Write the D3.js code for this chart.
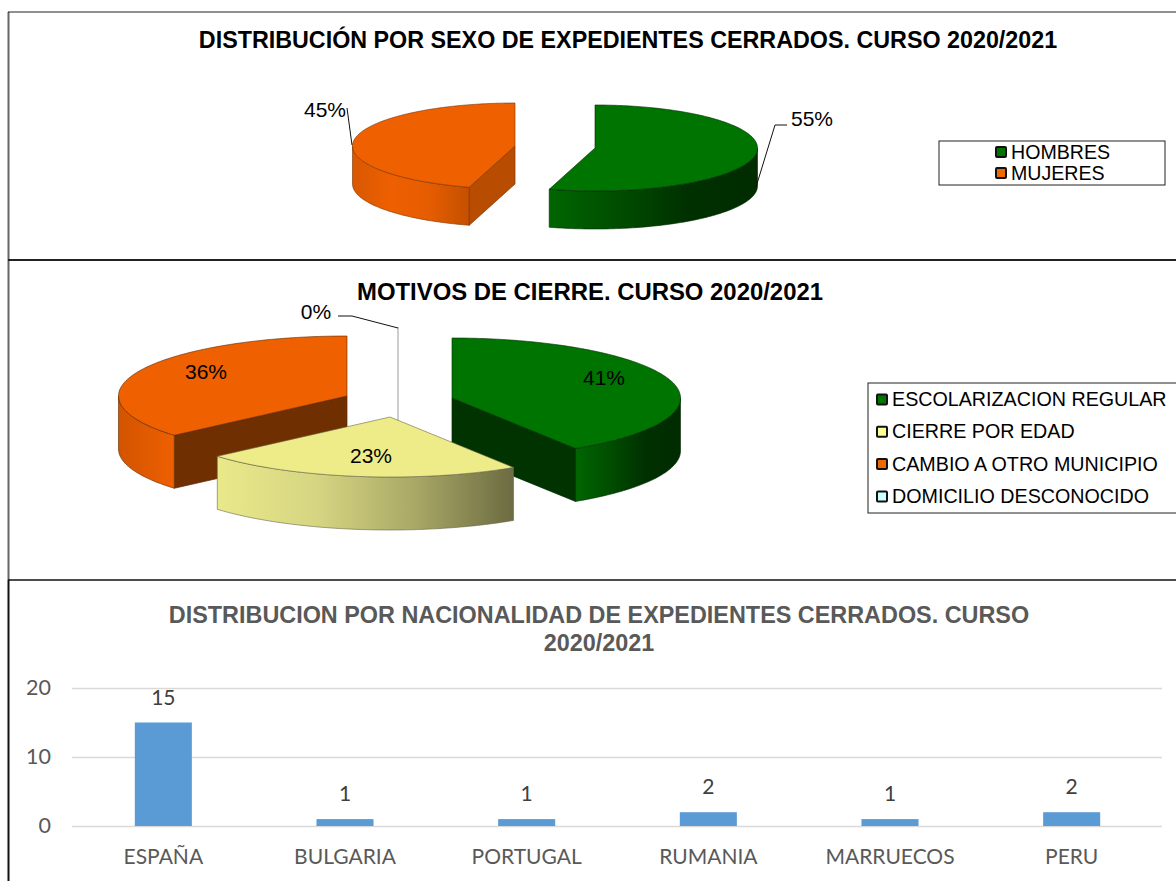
<!DOCTYPE html>
<html><head><meta charset="utf-8">
<script src="https://cdn.jsdelivr.net/npm/d3@7"></script>
<style>html,body{margin:0;padding:0;background:#fff}svg{display:block}</style>
</head><body><svg id="c" width="1176" height="881"></svg>
<script>
const sexCategories=["HOMBRES","MUJERES"];
const sexValues=[12,10];
const motiveCategories=["ESCOLARIZACION REGULAR","CIERRE POR EDAD","CAMBIO A OTRO MUNICIPIO","DOMICILIO DESCONOCIDO"];
const motiveValues=[9,5,8,0];
const nationCategories=["ESPAÑA","BULGARIA","PORTUGAL","RUMANIA","MARRUECOS","PERU"];
const nationValues=[15,1,1,2,1,2];
const yTicks=[0,10,20];
const titleSex="DISTRIBUCIÓN POR SEXO DE EXPEDIENTES CERRADOS. CURSO 2020/2021";
const titleMotive="MOTIVOS DE CIERRE. CURSO 2020/2021";
const titleNationLines=["DISTRIBUCION POR NACIONALIDAD DE EXPEDIENTES CERRADOS. CURSO","2020/2021"];

const svg=d3.select("#c");
const defs=svg.append("defs");
const ARIAL="'Liberation Sans',Arial,sans-serif";
const line=d3.line();
let gid=0;
const pct=(vals,i)=>Math.round(vals[i]/d3.sum(vals)*100)+"%";

// frames
[[8.5,12,8.5,580,2,"#666"],[8.5,580,8.5,881,2,"#111"],[8,12,1176,12,1.2,"#222"],[8,260,1176,260,1.8,"#222"],[8,580,1176,580,1.5,"#111"]].forEach(l=>
 svg.append("line").attr("x1",l[0]).attr("y1",l[1]).attr("x2",l[2]).attr("y2",l[3]).attr("stroke-width",l[4]).attr("stroke",l[5]));

function gradient(x0,x1,stops){
  const id="g"+(++gid);
  const g=defs.append("linearGradient").attr("id",id).attr("gradientUnits","userSpaceOnUse")
    .attr("x1",x0).attr("x2",x1).attr("y1",0).attr("y2",0);
  stops.forEach((c,i)=>g.append("stop").attr("offset",i/(stops.length-1)).attr("stop-color",c));
  return `url(#${id})`;
}

// layered 3D pie projected from d3.pie angles
function pie3d(values,opts){
  const arcs=d3.pie().sort(null).value(d=>d)(values);
  const pt=(c,a,dz=0)=>[c[0]+opts.rx*Math.sin(a),c[1]-opts.ry*Math.cos(a)+dz];
  const arcPts=(c,a0,a1,dz=0)=>{const n=Math.max(2,Math.ceil(Math.abs(a1-a0)/0.02));
    return d3.range(n+1).map(i=>pt(c,a0+(a1-a0)*i/n,dz));};
  const g=svg.append("g").attr("stroke-linejoin","round");
  opts.order.forEach(i=>{
    const a=arcs[i],c=opts.centers[i],st=opts.styles[i],d=opts.depth;
    const a0=a.startAngle,a1=a.endAngle;
    const wall=(ang)=>{const p=pt(c,ang);
      g.append("path").attr("d",line([c,p,[p[0],p[1]+d],[c[0],c[1]+d]])+"Z")
       .attr("fill",st.wall).attr("stroke",st.edge).attr("stroke-width",0.7);};
    if(a0>Math.PI&&a0<2*Math.PI) wall(a0);
    if(a1>0&&a1<Math.PI) wall(a1);
    if(a0===a1){
      g.append("path").attr("d",line([pt(c,a0),c,[c[0],c[1]+d]])).attr("fill","none")
       .attr("stroke",st.edge).attr("stroke-width",1);
      return;
    }
    const w0=Math.max(a0,Math.PI/2),w1=Math.min(a1,1.5*Math.PI);
    if(w1>w0){
      const top=arcPts(c,w0,w1),bot=arcPts(c,w1,w0,d);
      const xs=top.map(p=>p[0]);
      g.append("path").attr("d",line(top.concat(bot))+"Z")
       .attr("fill",gradient(d3.min(xs),d3.max(xs),st.rim)).attr("stroke",st.edge).attr("stroke-width",0.6);
    }
    g.append("path").attr("d",line([c].concat(arcPts(c,a0,a1)))+"Z")
     .attr("fill",st.top).attr("stroke",st.edge).attr("stroke-width",0.6);
  });
}

function legend(cats,colors,o){
  svg.append("rect").attr("x",o.x).attr("y",o.y).attr("width",o.w).attr("height",o.h)
    .attr("fill","#fff").attr("stroke","#222").attr("stroke-width",1);
  cats.forEach((t,i)=>{
    const y=o.y0+i*o.step;
    svg.append("rect").attr("x",o.kx+1).attr("y",y-5).attr("width",10).attr("height",10)
      .attr("fill",colors[i]).attr("stroke","#111").attr("stroke-width",2).attr("rx",1);
    svg.append("text").attr("x",o.kx+16).attr("y",y+6.5).text(t)
      .attr("font-family",ARIAL).attr("font-size",o.fs).attr("fill","#000");
  });
}
function txt(x,y,t,fs,anchor="middle",weight="normal",fill="#000",fam=ARIAL){
  return svg.append("text").attr("x",x).attr("y",y).text(t).attr("font-family",fam)
   .attr("font-size",fs).attr("font-weight",weight).attr("text-anchor",anchor).attr("fill",fill);
}
function leader(pts){svg.append("path").attr("d",line(pts)).attr("fill","none").attr("stroke","#111").attr("stroke-width",1);}

const GREEN={top:"#007400",wall:"#003300",edge:"#002a00",rim:["#006600","#004d00","#003000","#002c00"]};
const ORANGE={top:"#ee6000",wall:"#b84c00",edge:"#7a3300",rim:["#d85800","#ee6000","#e55c00","#c45000"]};
const ORANGE2={top:"#ee6000",wall:"#702f00",edge:"#5a2600",rim:["#d25400","#ee6000"]};
const YELLOW={top:"#eeec88",wall:"#8a8a55",edge:"#66664a",rim:["#e9e98a","#d6d582","#a9a866","#6c6b42"]};
const EMPTY={top:"#fff",wall:"#fff",edge:"#9a9a9a",rim:["#fff","#fff"]};

// chart 1
txt(628,47.5,titleSex,23.3,"middle","bold");
pie3d(sexValues,{rx:162.5,ry:43,depth:38,order:[1,0],centers:[[595,148],[515,146]],styles:[GREEN,ORANGE]});
txt(812,126,pct(sexValues,0),21);
txt(325,117,pct(sexValues,1),21);
leader([[756,187],[775,125],[787,125]]);
leader([[347,108],[352,145]]);
legend(sexCategories,["#007400","#ee6a00"],{x:939,y:141,w:226,h:44,kx:995,y0:152,step:21,fs:19.6});

// chart 2
txt(590,299.5,titleMotive,23.9,"middle","bold");
pie3d(motiveValues,{rx:228.5,ry:60,depth:53,order:[3,2,0,1],
  centers:[[452,398],[390,417],[347,396],[398,387]],styles:[GREEN,YELLOW,ORANGE2,EMPTY]});
txt(604,385,pct(motiveValues,0),21);
txt(371,463,pct(motiveValues,1),21);
txt(206,379,pct(motiveValues,2),21);
txt(316,319,pct(motiveValues,3),21);
leader([[338,316],[352,316],[398,328]]);
legend(motiveCategories,["#007400","#ffff99","#ee6a00","#ccffff"],{x:868,y:383,w:320,h:130,kx:876,y0:399.5,step:32.3,fs:19.7});

// chart 3
const x=d3.scaleBand().domain(nationCategories).range([72.5,1162.5]).paddingInner(0.686).paddingOuter(0.343);
const y=d3.scaleLinear().domain([0,20]).range([826,688]);
const GREY="#595959",LATO="Lato,'Open Sans',sans-serif";
titleNationLines.forEach((t,i)=>txt(599,623+i*28,t,23.4,"middle","bold",GREY));
const yAxis=d3.axisLeft(y).tickValues(yTicks).tickSize(-(1162-72)).tickPadding(21);
const ya=svg.append("g").attr("transform","translate(72,0)").call(yAxis);
ya.select(".domain").remove();
ya.selectAll("line").attr("stroke","#d9d9d9").attr("stroke-width",1.6);
ya.selectAll("text").attr("font-family",LATO).attr("font-size",21.5).attr("fill",GREY);
const xAxis=d3.axisBottom(x).tickSize(0).tickPadding(23);
const xa=svg.append("g").attr("transform","translate(0,826)").call(xAxis);
xa.select(".domain").remove();
xa.selectAll("text").attr("font-family",LATO).attr("font-size",21).attr("fill",GREY);
svg.append("g").selectAll("rect").data(nationValues).join("rect")
  .attr("x",(d,i)=>x(nationCategories[i])).attr("width",x.bandwidth())
  .attr("y",d=>y(d)).attr("height",d=>y(0)-y(d)).attr("fill","#5b9bd5");
svg.append("g").selectAll("text").data(nationValues).join("text")
  .attr("x",(d,i)=>x(nationCategories[i])+x.bandwidth()/2).attr("y",d=>y(d)-18)
  .attr("text-anchor","middle").attr("font-family",LATO).attr("font-size",21).attr("fill","#404040").text(d=>d);
</script></body></html>
